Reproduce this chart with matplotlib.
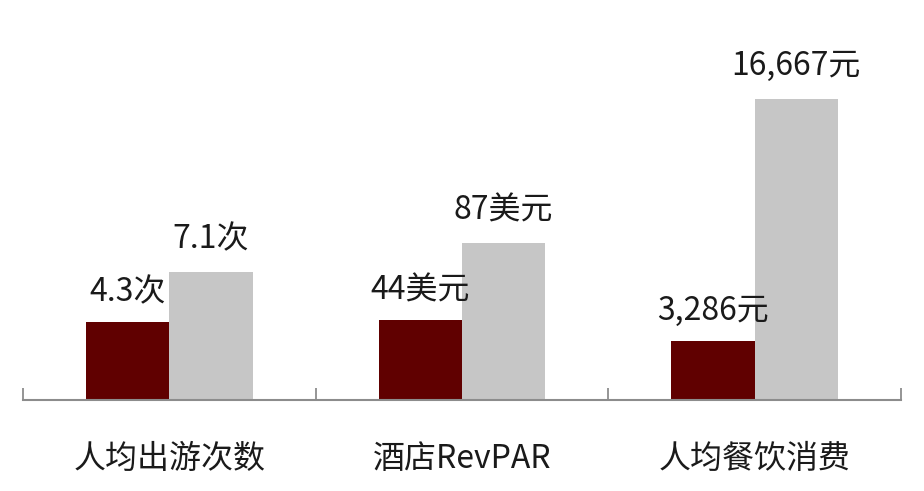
import matplotlib.pyplot as plt
import numpy as np

plt.rcParams['font.family'] = ['Noto Sans CJK SC', 'DejaVu Sans']

# data
categories = ['人均出游次数', '酒店RevPAR', '人均餐饮消费']
values_low = [4.3, 44, 3286]
values_high = [7.1, 87, 16667]
units = ['次', '美元', '元']
# each group is drawn on its own scale (value / divisor)
divisors = [1, 10, 1000]

dark = '#600000'
grey = '#c6c6c6'
axis_grey = '#8c8c8c'

fig = plt.figure(figsize=(9.24, 4.91), dpi=100)
ax = fig.add_axes([23 / 924, 91 / 491, 878 / 924, 380 / 491])

x = np.arange(len(categories))
w = 0.285
low_scaled = np.array(values_low) / np.array(divisors)
high_scaled = np.array(values_high) / np.array(divisors)

ax.bar(x - w / 2, low_scaled, w, color=dark)
ax.bar(x + w / 2, high_scaled, w, color=grey)

# value labels above bars
for xi, v, h, u in zip(x - w / 2, values_low, low_scaled, units):
    ax.annotate(f'{v:,}{u}', (xi, h), xytext=(0, 21.5), textcoords='offset points',
                ha='center', va='center', fontsize=23, color='#1a1a1a')
for xi, v, h, u in zip(x + w / 2, values_high, high_scaled, units):
    ax.annotate(f'{v:,}{u}', (xi, h), xytext=(0, 23.5), textcoords='offset points',
                ha='center', va='center', fontsize=23, color='#1a1a1a')

ax.set_xlim(-0.5, 2.5)
ax.set_ylim(0, 380 / 18.07)

for side in ['top', 'right', 'left']:
    ax.spines[side].set_visible(False)
ax.spines['bottom'].set_color(axis_grey)
ax.spines['bottom'].set_linewidth(1.5)
ax.set_yticks([])

ax.set_xticks(x)
ax.set_xticklabels(categories, fontsize=23, color='#1a1a1a')
ax.tick_params(axis='x', which='major', length=0, pad=31)
ax.set_xticks([-0.5, 0.5, 1.5, 2.5], minor=True)
ax.tick_params(axis='x', which='minor', direction='in', length=8.5,
               width=1.3, color=axis_grey)

fig.savefig('out.png', dpi=100)
